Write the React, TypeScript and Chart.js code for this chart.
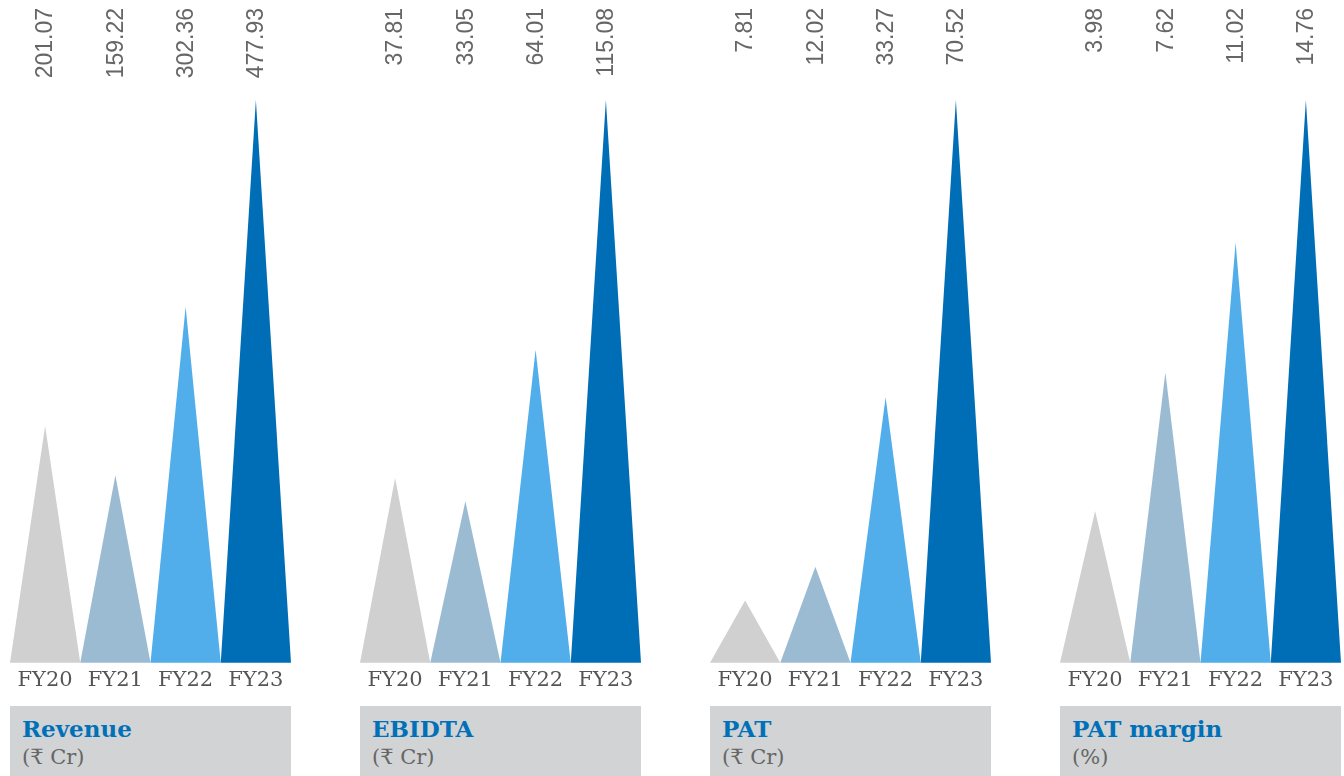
import React, { useEffect, useRef } from "react";
import { Chart, registerables } from "chart.js";
Chart.register(...registerables);

const years = ["FY20", "FY21", "FY22", "FY23"];
const revenue = [201.07, 159.22, 302.36, 477.93];
const ebitda = [37.81, 33.05, 64.01, 115.08];
const pat = [7.81, 12.02, 33.27, 70.52];
const patMargin = [3.98, 7.62, 11.02, 14.76];
const titles = ["Revenue", "EBIDTA", "PAT", "PAT margin"];
const units = ["(₹ Cr)", "(₹ Cr)", "(₹ Cr)", "(%)"];
const barColors = ["#d0d0d0", "#9bbbd3", "#51aeea", "#006eb6"];
const seriesList = [revenue, ebitda, pat, patMargin];

const spikePlugin = {
  id: "spikes",
  beforeDatasetsDraw(chart: any) {
    const ctx = chart.ctx;
    chart.data.datasets.forEach((ds: any, di: number) => {
      const meta = chart.getDatasetMeta(di);
      meta.data.forEach((bar: any, i: number) => {
        const { x, y, base, width } = bar.getProps(["x", "y", "base", "width"], true);
        ctx.save();
        ctx.fillStyle = bar.options.backgroundColor;
        ctx.beginPath();
        ctx.moveTo(x - width / 2, base);
        ctx.lineTo(x, y);
        ctx.lineTo(x + width / 2, base);
        ctx.closePath();
        ctx.fill();
        ctx.restore();

        ctx.save();
        ctx.translate(x, chart.chartArea.top - 92);
        ctx.rotate(-Math.PI / 2);
        ctx.font = '23px "Liberation Sans", Arial, sans-serif';
        ctx.fillStyle = "#666666";
        ctx.textAlign = "right";
        ctx.textBaseline = "middle";
        ctx.fillText(Number(ds.data[i]).toFixed(2), 0, 1);
        ctx.restore();
      });
    });
    return false;
  },
};

function Panel({ values, title, unit, left }: { values: number[]; title: string; unit: string; left: number }) {
  const ref = useRef<HTMLCanvasElement>(null);
  useEffect(() => {
    if (!ref.current) return;
    const chart = new Chart(ref.current, {
      type: "bar",
      data: {
        labels: years,
        datasets: [
          {
            data: values,
            backgroundColor: barColors,
            categoryPercentage: 1,
            barPercentage: 1,
          },
        ],
      },
      options: {
        animation: false,
        responsive: false,
        maintainAspectRatio: false,
        layout: { padding: { top: 100, bottom: 2, left: 0, right: 0 } },
        plugins: { legend: { display: false }, tooltip: { enabled: false } },
        scales: {
          x: {
            grid: { display: false, drawTicks: false },
            border: { display: false },
            ticks: {
              color: "#555555",
              padding: 5,
              font: { family: '"DejaVu Serif", serif', size: 21 },
            },
          },
          y: {
            display: false,
            min: 0,
            max: Math.max(...values),
          },
        },
      },
      plugins: [spikePlugin],
    });
    return () => chart.destroy();
  }, [values]);

  return (
    <div style={{ position: "absolute", left, top: 0, width: 281, height: 776 }}>
      <canvas ref={ref} width={281} height={700} style={{ position: "absolute", left: 0, top: 0, width: 281, height: 700 }} />
      <div
        style={{
          position: "absolute",
          left: 0,
          top: 706,
          width: 281,
          height: 70,
          background: "#d1d3d4",
        }}
      >
        <div
          style={{
            position: "absolute",
            left: 12,
            top: 9,
            font: 'bold 23px "DejaVu Serif", serif',
            color: "#0070b8",
            whiteSpace: "nowrap",
          }}
        >
          {title}
        </div>
        <div
          style={{
            position: "absolute",
            left: 12,
            top: 39,
            font: '21px "DejaVu Serif", "Noto Sans", serif',
            color: "#666666",
            whiteSpace: "nowrap",
          }}
        >
          {unit}
        </div>
      </div>
    </div>
  );
}

export default function App() {
  return (
    <div style={{ position: "fixed", left: 0, top: 0, width: 1344, height: 776, background: "#ffffff", overflow: "hidden" }}>
      {seriesList.map((s, i) => (
        <Panel key={i} values={s} title={titles[i]} unit={units[i]} left={10 + i * 350} />
      ))}
    </div>
  );
}
